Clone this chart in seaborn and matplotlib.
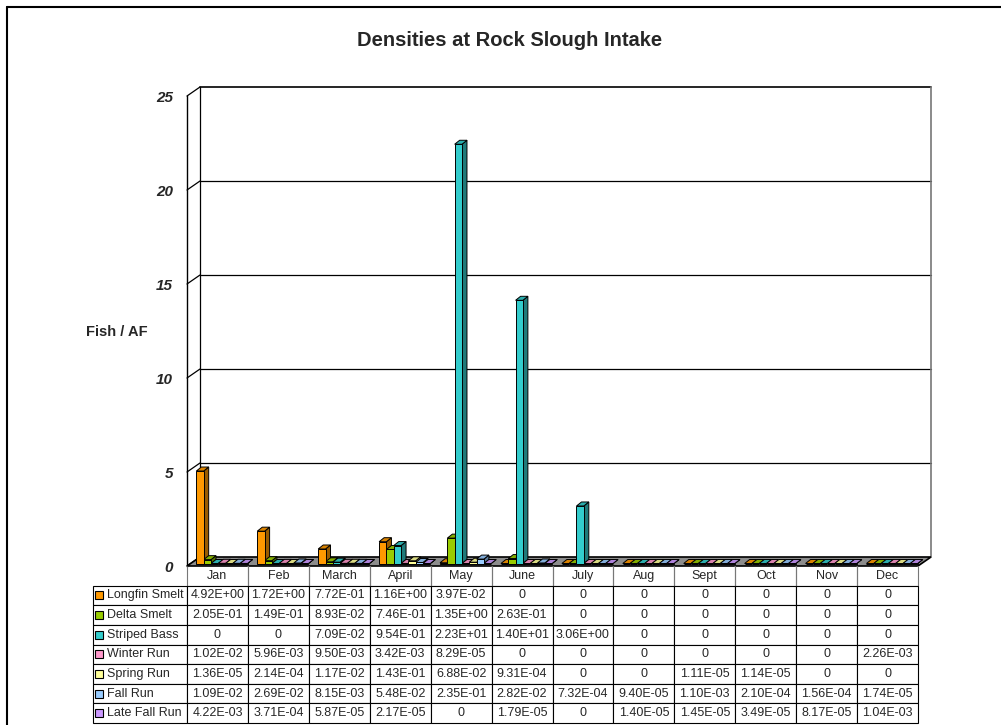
import numpy as np
import pandas as pd
import matplotlib
matplotlib.use("Agg")
import matplotlib.pyplot as plt
import matplotlib.transforms as mtransforms
from matplotlib.patches import Polygon, Rectangle
from matplotlib.lines import Line2D
import seaborn as sns

# ---------------- data ----------------
months = ["Jan", "Feb", "March", "April", "May", "June", "July", "Aug", "Sept", "Oct", "Nov", "Dec"]
species = ["Longfin Smelt", "Delta Smelt", "Striped Bass", "Winter Run",
           "Spring Run", "Fall Run", "Late Fall Run"]
colors = ["#FF9900", "#99CC00", "#33CCCC", "#FF99CC", "#FFFF99", "#99CCFF", "#CC99FF"]

longfin_smelt = ["4.92E+00", "1.72E+00", "7.72E-01", "1.16E+00", "3.97E-02", "0", "0", "0", "0", "0", "0", "0"]
delta_smelt = ["2.05E-01", "1.49E-01", "8.93E-02", "7.46E-01", "1.35E+00", "2.63E-01", "0", "0", "0", "0", "0", "0"]
striped_bass = ["0", "0", "7.09E-02", "9.54E-01", "2.23E+01", "1.40E+01", "3.06E+00", "0", "0", "0", "0", "0"]
winter_run = ["1.02E-02", "5.96E-03", "9.50E-03", "3.42E-03", "8.29E-05", "0", "0", "0", "0", "0", "0", "2.26E-03"]
spring_run = ["1.36E-05", "2.14E-04", "1.17E-02", "1.43E-01", "6.88E-02", "9.31E-04", "0", "0", "1.11E-05", "1.14E-05", "0", "0"]
fall_run = ["1.09E-02", "2.69E-02", "8.15E-03", "5.48E-02", "2.35E-01", "2.82E-02", "7.32E-04", "9.40E-05", "1.10E-03", "2.10E-04", "1.56E-04", "1.74E-05"]
late_fall_run = ["4.22E-03", "3.71E-04", "5.87E-05", "2.17E-05", "0", "1.79E-05", "0", "1.40E-05", "1.45E-05", "3.49E-05", "8.17E-05", "1.04E-03"]

y_ticks = [0, 5, 10, 15, 20, 25]
title = "Densities at Rock Slough Intake"
y_label = "Fish / AF"

series_text = [longfin_smelt, delta_smelt, striped_bass, winter_run, spring_run, fall_run, late_fall_run]

rows = []
for sp, vals in zip(species, series_text):
    for m, v in zip(months, vals):
        rows.append({"month": m, "species": sp, "value": float(v)})
df = pd.DataFrame(rows)

# ---------------- figure ----------------
sns.set_style("white")
plt.rcParams["font.family"] = ["Liberation Sans", "DejaVu Sans"]

W, H = 1001, 725
fig = plt.figure(figsize=(W / 100, H / 100), dpi=100)
fig.patch.set_facecolor("white")

# front plane of the 3D plot area (pixels -> figure fraction)
L_px, R_px, B_px, T_px = 187, 918, 566, 96
ax = fig.add_axes([L_px / W, 1 - B_px / H, (R_px - L_px) / W, (B_px - T_px) / H])
ax.set_facecolor("none")

sns.barplot(data=df, x="month", y="value", hue="species", order=months,
            hue_order=species, palette=colors, width=0.84, errorbar=None,
            edgecolor="black", linewidth=0.7, saturation=1, legend=False, ax=ax)

ax.set_xlim(-0.5, len(months) - 0.5)
ax.set_ylim(0, 25)
ax.set_xticks([])
ax.set_xlabel("")
ax.set_ylabel("")
for s in ["top", "right", "bottom"]:
    ax.spines[s].set_visible(False)
ax.spines["left"].set_color("black")
ax.spines["left"].set_linewidth(1.0)
ax.set_yticks(y_ticks)
ax.tick_params(axis="y", length=6.5, width=0.9, pad=3.5, color="black")
for lbl in ax.get_yticklabels():
    lbl.set_fontweight("bold")
    lbl.set_fontstyle("italic")
    lbl.set_fontsize(11)

# pixel -> data unit conversion
ux = (R_px - L_px) / len(months)
uy = (B_px - T_px) / 25.0
dxf, dyf = 13 / ux, 9 / uy          # wall depth
x_lo, x_hi = -0.5, len(months) - 0.5

# floor
floor = Polygon([(x_lo, 0), (x_hi, 0), (x_hi + dxf, dyf), (x_lo + dxf, dyf)],
                closed=True, fc="#8c8c8c", ec="black", lw=1.2, zorder=1, clip_on=False)
ax.add_patch(floor)

# back wall gridlines + side wall diagonals
for t in y_ticks:
    if t > 0:
        ax.add_line(Line2D([x_lo + dxf, x_hi + dxf], [t + dyf, t + dyf], color="black",
                           lw=1.2 if t == y_ticks[-1] else 0.9, zorder=0.5, clip_on=False))
    ax.add_line(Line2D([x_lo, x_lo + dxf], [t, t + dyf], color="black", lw=0.9,
                       zorder=0.5, clip_on=False))
ax.add_line(Line2D([x_lo + dxf] * 2, [dyf, 25 + dyf], color="black", lw=0.9, zorder=0.5, clip_on=False))
ax.add_line(Line2D([x_hi + dxf] * 2, [dyf, 25 + dyf], color="#777777", lw=1.2, zorder=0.5, clip_on=False))

# 3D bars: shift bars to mid depth and add top / side faces
shift = ax.transData + mtransforms.ScaledTranslation(0.045, 0.025, fig.dpi_scale_trans)
bdx, bdy = 5 / ux, 4 / uy
bars = list(ax.patches)
bars = [p for p in bars if isinstance(p, Rectangle) and p is not floor]
for p in bars:
    x0, w, h = p.get_x(), p.get_width(), p.get_height()
    fc = np.array(p.get_facecolor()[:3])
    p.set_transform(shift)
    p.set_zorder(3)
    p.set_clip_on(False)
    side = Polygon([(x0 + w, 0), (x0 + w + bdx, bdy), (x0 + w + bdx, h + bdy), (x0 + w, h)],
                   closed=True, fc=fc * 0.6, ec="black", lw=0.7, zorder=2.5,
                   transform=shift, clip_on=False)
    top = Polygon([(x0, h), (x0 + w, h), (x0 + w + bdx, h + bdy), (x0 + bdx, h + bdy)],
                  closed=True, fc=fc * 0.85, ec="black", lw=0.7, zorder=2.5,
                  transform=shift, clip_on=False)
    ax.add_patch(side)
    ax.add_patch(top)

# ---------------- data table ----------------
tab_L, tab_B = 93, 723
bx0 = (tab_L - L_px) / (R_px - L_px)
bw = (R_px - tab_L) / (R_px - L_px)
by0 = -(tab_B - B_px) / (B_px - T_px)
bh = (tab_B - B_px) / (B_px - T_px)

cell_text = [[sp] + vals for sp, vals in zip(species, series_text)]
col_labels = [""] + months
col_widths = [94] + [ux] * len(months)
tbl = ax.table(cellText=cell_text, colLabels=col_labels, colWidths=col_widths,
               cellLoc="center", bbox=[bx0, by0, bw, bh])
tbl.auto_set_font_size(False)
tbl.set_fontsize(9)
tbl.set_zorder(4)
tbl.set_clip_on(False)
for (r, c), cell in tbl.get_celld().items():
    cell.set_edgecolor("black")
    cell.set_linewidth(0.8)
    cell.set_clip_on(False)
    cell.get_text().set_fontsize(9)
    if r == 0 and c == 0:
        cell.visible_edges = ""
    elif r == 0:
        cell.set_edgecolor("#777777")
        cell.visible_edges = "LRB"
    if c == 0 and r > 0:
        cell._loc = "left"
        cell.PAD = 0.15
        cell.get_text().set_ha("left")

# legend keys in the row label cells
nrows = len(species) + 1
ks_w = 8 / (R_px - L_px)
ks_h = 8 / (B_px - T_px)
kx = (95 - L_px) / (R_px - L_px)
for i, col in enumerate(colors):
    yc = by0 + bh * (1 - (i + 1.5) / nrows)
    ax.add_patch(Rectangle((kx, yc - ks_h / 2), ks_w, ks_h, transform=ax.transAxes,
                           fc=col, ec="black", lw=0.8, zorder=6, clip_on=False))

# ---------------- texts & frame ----------------
fig.text(510 / W, 1 - 40 / H, title, ha="center", va="center",
         fontsize=14.5, fontweight="bold")
fig.text(117 / W, 1 - 332 / H, y_label, ha="center", va="center",
         fontsize=10.5, fontweight="bold")
fig.add_artist(Line2D([7 / W, 7 / W], [0, 1 - 7 / H], transform=fig.transFigure,
                      color="black", lw=1.5))
fig.add_artist(Line2D([7 / W, 1], [1 - 7 / H, 1 - 7 / H], transform=fig.transFigure,
                      color="black", lw=1.5))

fig.savefig("out.png", dpi=100)
